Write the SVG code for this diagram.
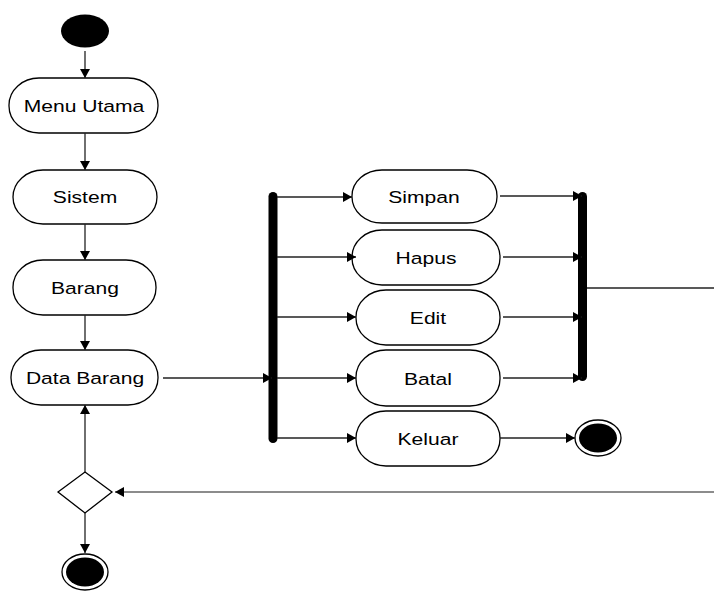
<svg xmlns="http://www.w3.org/2000/svg" width="714" height="593" viewBox="0 0 714 593">
<style>
.node{fill:#fff;stroke:#000;stroke-width:1.3}
.lbl{font-family:"Liberation Sans",Arial,sans-serif;font-size:17px;text-anchor:middle;fill:#000}
.ln{fill:none;stroke:#222;stroke-width:1.3;marker-end:url(#ah)}
.bar{fill:#000}
</style>
<defs>
<marker id="ah" markerUnits="userSpaceOnUse" markerWidth="10" markerHeight="12" refX="9" refY="5" orient="auto">
<path d="M0,0 L9,5 L0,10 Z" fill="#000"/>
</marker>
</defs>
<g id="start"><ellipse cx="85" cy="31" rx="24" ry="16.5" fill="#000"/></g>
<g id="menu-utama"><rect class="node" x="9" y="78" width="149" height="55" rx="30" ry="27"/><text class="lbl" transform="translate(84,112) scale(1.24,1)">Menu Utama</text></g>
<g id="sistem"><rect class="node" x="13" y="170" width="144" height="54" rx="30" ry="27"/><text class="lbl" transform="translate(85,203) scale(1.24,1)">Sistem</text></g>
<g id="barang"><rect class="node" x="13" y="260" width="143" height="55" rx="30" ry="27"/><text class="lbl" transform="translate(85,294) scale(1.24,1)">Barang</text></g>
<g id="data-barang"><rect class="node" x="11" y="350" width="147" height="55" rx="30" ry="27"/><text class="lbl" transform="translate(85,384) scale(1.24,1)">Data Barang</text></g>
<g id="fork"><rect class="bar" x="268.5" y="192" width="9" height="251" rx="4.5"/></g>
<g id="join"><rect class="bar" x="578" y="192" width="9" height="189" rx="4.5"/></g>
<g id="simpan"><rect class="node" x="352" y="170" width="145" height="53" rx="30" ry="26"/><text class="lbl" transform="translate(424,203) scale(1.24,1)">Simpan</text></g>
<g id="hapus"><rect class="node" x="352" y="230" width="148" height="55" rx="30" ry="27"/><text class="lbl" transform="translate(426,264) scale(1.24,1)">Hapus</text></g>
<g id="edit"><rect class="node" x="356" y="290" width="144" height="55" rx="30" ry="27"/><text class="lbl" transform="translate(428,324) scale(1.24,1)">Edit</text></g>
<g id="batal"><rect class="node" x="356" y="350" width="144" height="56" rx="30" ry="27"/><text class="lbl" transform="translate(428,385) scale(1.24,1)">Batal</text></g>
<g id="keluar"><rect class="node" x="356" y="411" width="144" height="55" rx="30" ry="27"/><text class="lbl" transform="translate(428,445) scale(1.24,1)">Keluar</text></g>
<g id="end-keluar"><ellipse cx="598" cy="438" rx="23" ry="18" fill="#fff" stroke="#000" stroke-width="1.3"/><ellipse cx="598" cy="438" rx="19" ry="14.5" fill="#000"/></g>
<g id="decision"><path class="node" d="M85,472 L112,492 L85,513 L58,492 Z"/></g>
<g id="end"><ellipse cx="85" cy="572" rx="23" ry="18" fill="#fff" stroke="#000" stroke-width="1.3"/><ellipse cx="85" cy="572" rx="19" ry="14.5" fill="#000"/></g>
<g id="connectors">
<line class="ln" x1="85" y1="51" x2="85" y2="78"/>
<line class="ln" x1="85" y1="133" x2="85" y2="170"/>
<line class="ln" x1="85" y1="224" x2="85" y2="260"/>
<line class="ln" x1="85" y1="315" x2="85" y2="350"/>
<line class="ln" x1="163" y1="378" x2="272" y2="378"/>
<line class="ln" x1="277" y1="197" x2="352" y2="197"/>
<line class="ln" x1="277" y1="257" x2="356" y2="257"/>
<line class="ln" x1="277" y1="317" x2="356" y2="317"/>
<line class="ln" x1="277" y1="378" x2="356" y2="378"/>
<line class="ln" x1="277" y1="438" x2="356" y2="438"/>
<line class="ln" x1="500" y1="196" x2="582" y2="196"/>
<line class="ln" x1="503" y1="257" x2="582" y2="257"/>
<line class="ln" x1="503" y1="317" x2="582" y2="317"/>
<line class="ln" x1="503" y1="378" x2="582" y2="378"/>
<line class="ln" x1="500" y1="438" x2="575" y2="438"/>
<line x1="587" y1="288" x2="714" y2="288" stroke="#222" stroke-width="1.3"/>
<line class="ln" x1="714" y1="492" x2="115" y2="492" style="stroke:#666"/>
<line class="ln" x1="85" y1="472" x2="85" y2="405"/>
<line class="ln" x1="85" y1="513" x2="85" y2="553"/>
</g>
</svg>
